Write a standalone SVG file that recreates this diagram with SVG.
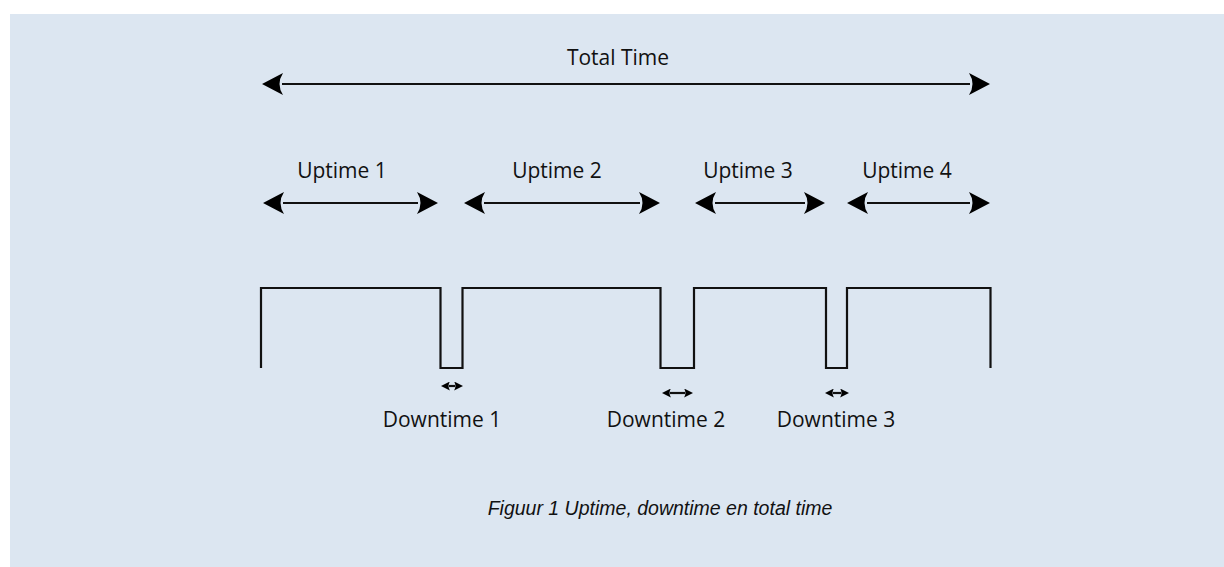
<svg xmlns="http://www.w3.org/2000/svg" width="1224" height="567" viewBox="0 0 1224 567">
<style>
.lbl{font-family:"Open Sans","Noto Sans",sans-serif;font-size:21px;fill:#111;text-anchor:middle}
.cap{font-family:"Liberation Sans",Arial,sans-serif;font-size:19.5px;font-style:italic;fill:#111;text-anchor:middle}
.ln{stroke:#111;stroke-width:2.2;fill:none}
</style>
<defs>
<marker id="ah" viewBox="0 0 22 22" refX="2" refY="11" markerWidth="22" markerHeight="22" markerUnits="userSpaceOnUse" orient="auto-start-reverse">
<path d="M22,11 L1,0 Q8,11 1,22 Z" fill="#000"/>
</marker>
<marker id="ahs" viewBox="0 0 10 10" refX="1" refY="5" markerWidth="9" markerHeight="9" markerUnits="userSpaceOnUse" orient="auto-start-reverse">
<path d="M10,5 L0,0 Q3,5 0,10 Z" fill="#000"/>
</marker>
</defs>
<rect x="10" y="14" width="1214" height="553" fill="#dce6f1"/>
<g id="connectors">
<line id="total" class="ln" x1="282" y1="84" x2="970" y2="84" marker-start="url(#ah)" marker-end="url(#ah)"/>
<line id="up1" class="ln" x1="283" y1="203" x2="418" y2="203" marker-start="url(#ah)" marker-end="url(#ah)"/>
<line id="up2" class="ln" x1="484" y1="203" x2="640" y2="203" marker-start="url(#ah)" marker-end="url(#ah)"/>
<line id="up3" class="ln" x1="715" y1="203" x2="805" y2="203" marker-start="url(#ah)" marker-end="url(#ah)"/>
<line id="up4" class="ln" x1="867" y1="203" x2="970" y2="203" marker-start="url(#ah)" marker-end="url(#ah)"/>
<line id="dn1" class="ln" stroke-width="1.6" x1="449" y1="386" x2="455" y2="386" marker-start="url(#ahs)" marker-end="url(#ahs)"/>
<line id="dn2" class="ln" stroke-width="1.6" x1="670" y1="393" x2="685" y2="393" marker-start="url(#ahs)" marker-end="url(#ahs)"/>
<line id="dn3" class="ln" stroke-width="1.6" x1="833" y1="393" x2="841" y2="393" marker-start="url(#ahs)" marker-end="url(#ahs)"/>
</g>
<g id="waveform">
<path class="ln" d="M261,368 V288 H440.5 V368 H462.5 V288 H660.5 V368 H694 V288 H826 V368 H847 V288 H990.5 V368"/>
</g>
<g id="n-total"><text class="lbl" x="618" y="65">Total Time</text></g>
<g id="n-up1"><text class="lbl" x="342" y="178">Uptime 1</text></g>
<g id="n-up2"><text class="lbl" x="557" y="178">Uptime 2</text></g>
<g id="n-up3"><text class="lbl" x="748" y="178">Uptime 3</text></g>
<g id="n-up4"><text class="lbl" x="907" y="178">Uptime 4</text></g>
<g id="n-dn1"><text class="lbl" x="442" y="427">Downtime 1</text></g>
<g id="n-dn2"><text class="lbl" x="666" y="427">Downtime 2</text></g>
<g id="n-dn3"><text class="lbl" x="836" y="427">Downtime 3</text></g>
<g id="caption"><text class="cap" x="660" y="515">Figuur 1 Uptime, downtime en total time</text></g>
</svg>
